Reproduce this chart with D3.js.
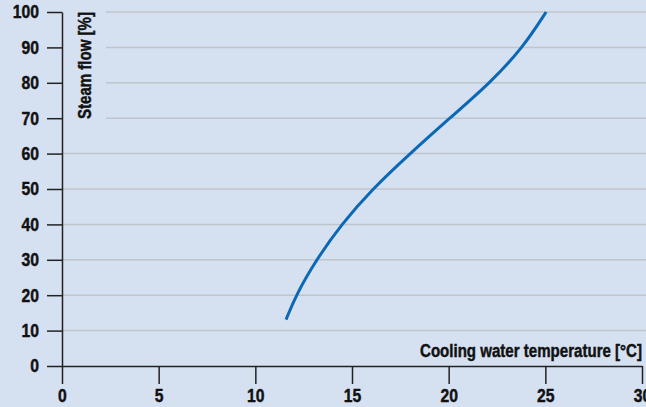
<!DOCTYPE html>
<html>
<head>
<meta charset="utf-8">
<script src="https://cdnjs.cloudflare.com/ajax/libs/d3/7.8.5/d3.min.js"></script>
<style>
  body { margin: 0; background: #d5e0f1; }
  svg text { font-family: "Liberation Sans", Arial, sans-serif; font-weight: bold; fill: #111; stroke: #111; stroke-width: 0.45px; }
</style>
</head>
<body>
<script>
// cooling water temperature [°C] vs steam flow [%]
const temperature = [11.59, 12.1, 13.15, 14.45, 16.05, 18.0, 20.05, 22.15, 23.85, 25.04];
const steamFlow   = [13.1, 20, 30, 40, 50, 60, 70, 80, 90, 100];
const xTicks = [0, 5, 10, 15, 20, 25, 30];
const yTicks = [0, 10, 20, 30, 40, 50, 60, 70, 80, 90, 100];

let width = 646,
    height = 407,
    bg = "#d5e0f1";

let svg = d3.select("body")
  .append("svg")
  .attr("width", width)
  .attr("height", height);

svg.append("rect")
   .attr("width", width)
   .attr("height", height)
   .attr("fill", bg);

let xScale = d3.scaleLinear().domain([0, 30]).range([62, 642]);
let yScale = d3.scaleLinear().domain([0, 100]).range([366, 12]);

// squeeze text to look like a condensed face
function condense(sel, k) {
  sel.each(function() {
    let w = this.getComputedTextLength();
    d3.select(this).attr("textLength", w * k).attr("lengthAdjust", "spacingAndGlyphs");
  });
}

// gridlines
svg.append("g")
   .selectAll("line")
   .data(yTicks.filter(d => d > 0))
   .enter().append("line")
   .attr("x1", xScale(0))
   .attr("x2", width)
   .attr("y1", d => yScale(d))
   .attr("y2", d => yScale(d))
   .attr("stroke", "#c0c4cb")
   .attr("stroke-width", 1.5);

// background behind the y title
svg.append("rect")
   .attr("x", xScale(0) + 1)
   .attr("y", 0)
   .attr("width", 43)
   .attr("height", 124)
   .attr("fill", bg);

// curve
let line = d3.line()
  .x((d, i) => xScale(temperature[i]))
  .y(d => yScale(d))
  .curve(d3.curveBasis);

svg.append("path")
   .datum(steamFlow)
   .attr("d", line)
   .attr("fill", "none")
   .attr("stroke", "#0a68b4")
   .attr("stroke-width", 3);

// Y axis
let yAxis = d3.axisLeft(yScale).tickValues(yTicks).tickSize(15).tickPadding(8).tickSizeOuter(0);
let gy = svg.append("g")
   .attr("transform", `translate(${xScale(0)},0)`)
   .call(yAxis);
gy.select(".domain").attr("stroke", "#222").attr("stroke-width", 1.5);
gy.selectAll(".tick line").attr("stroke", "#222").attr("stroke-width", 1.5);
gy.selectAll(".tick text").attr("font-size", 18.5).attr("fill", "#111").call(condense, 0.85);

// X axis
let xAxis = d3.axisBottom(xScale).tickValues(xTicks).tickSize(18).tickPadding(5).tickSizeOuter(0);
let gx = svg.append("g")
   .attr("transform", `translate(0,${yScale(0)})`)
   .call(xAxis);
gx.select(".domain").attr("stroke", "#222").attr("stroke-width", 1.5);
gx.selectAll(".tick line").attr("stroke", "#222").attr("stroke-width", 1.5);
gx.selectAll(".tick text").attr("font-size", 18.5).attr("fill", "#111").call(condense, 0.85);

// axis titles
svg.append("text")
   .attr("text-anchor", "start")
   .attr("transform", "translate(91,119)rotate(-90)")
   .attr("font-size", 18)
   .attr("textLength", 107)
   .attr("lengthAdjust", "spacingAndGlyphs")
   .text("Steam flow [%]");

svg.append("text")
   .attr("text-anchor", "end")
   .attr("x", 642)
   .attr("y", 357)
   .attr("font-size", 18)
   .attr("textLength", 222)
   .attr("lengthAdjust", "spacingAndGlyphs")
   .text("Cooling water temperature [°C]");
</script>
</body>
</html>
